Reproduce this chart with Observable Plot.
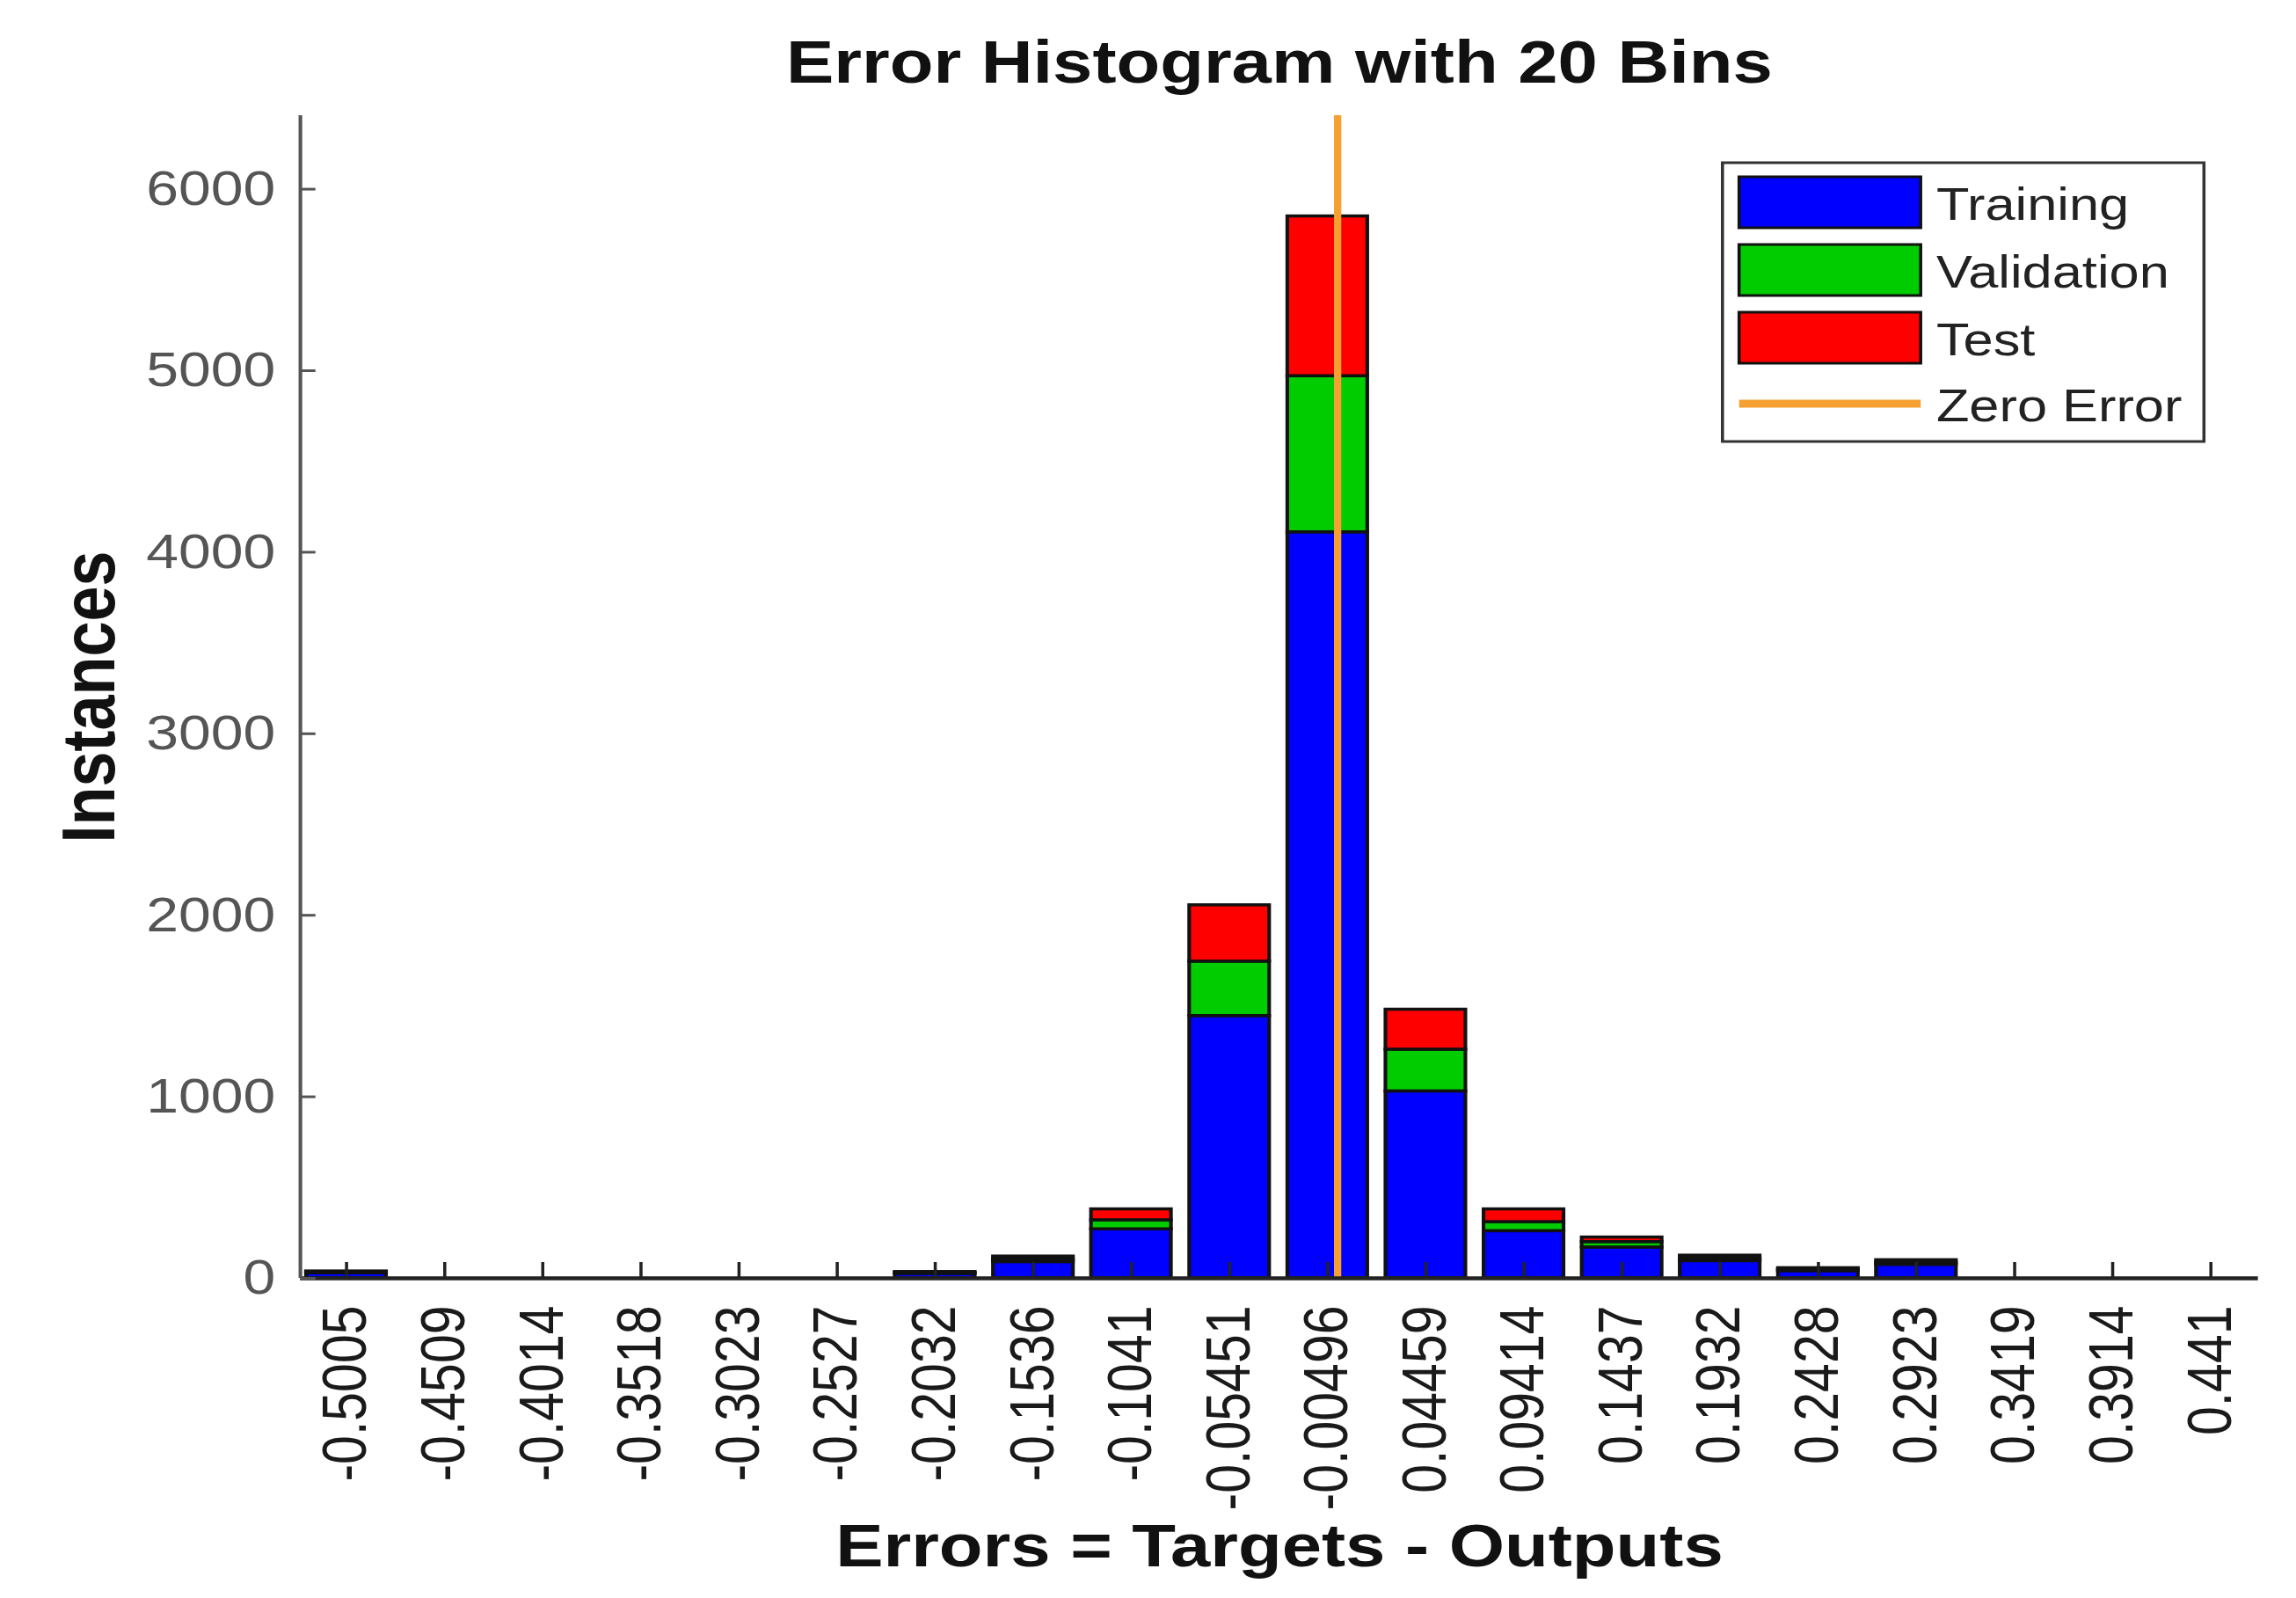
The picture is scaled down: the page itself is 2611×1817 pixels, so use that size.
<!DOCTYPE html>
<html><head><meta charset="utf-8">
<script src="https://cdn.jsdelivr.net/npm/d3@7"></script>
<script src="https://cdn.jsdelivr.net/npm/@observablehq/plot@0.6"></script>
<style>
html,body{margin:0;padding:0;background:#fff;overflow:hidden;}
#wrap{width:2213px;height:1817px;transform:scaleX(1.18);transform-origin:0 0;}
</style></head><body><div id="wrap"></div>
<script>
// ---- data ----
const binCenters = [-0.5005,-0.4509,-0.4014,-0.3518,-0.3023,-0.2527,-0.2032,-0.1536,-0.1041,-0.05451,-0.00496,0.04459,0.09414,0.1437,0.1932,0.2428,0.2923,0.3419,0.3914,0.441];
const tickLabels = ["-0.5005","-0.4509","-0.4014","-0.3518","-0.3023","-0.2527","-0.2032","-0.1536","-0.1041","-0.05451","-0.00496","0.04459","0.09414","0.1437","0.1932","0.2428","0.2923","0.3419","0.3914","0.441"];
const seriesNames = ["Training","Validation","Test"];
const seriesColors = ["#0000ff","#00cc00","#ff0000"];
const training   = [28,0,0,0,0,0,25,90,270,1445,4110,1030,260,170,95,40,75,0,0,0];
const validation = [5,0,0,0,0,0,5,15,50,300,860,230,50,30,15,8,12,0,0,0];
const test       = [5,0,0,0,0,0,5,15,60,310,880,220,70,25,15,8,13,0,0,0];
const yTicks = [0,1000,2000,3000,4000,5000,6000];
const yTickLabels = ["0","1000","2000","3000","4000","5000","6000"];
const titleText = "Error Histogram with 20 Bins";
const xLabel = "Errors = Targets - Outputs";
const yLabel = "Instances";
const zeroLabel = "Zero Error";
const zeroColor = "#f5a030";
const xDomain = [-0.5238, 0.4650];
const yDomain = [0, 6405];

// ---- layout ----
const W = 2213, H = 1817, mL = 289, mR = 37, mT = 131, mB = 364;
const plotW = W - mL - mR, plotH = H - mT - mB;
const halfBar = 0.0202;

const seriesValues = [training, validation, test];
const rows = [];
binCenters.forEach((c, i) => {
  let acc = 0;
  seriesNames.forEach((s, j) => {
    const v = seriesValues[j][i];
    if (v > 0) rows.push({x1: c - halfBar, x2: c + halfBar, y1: acc, y2: acc + v, series: s});
    acc += v;
  });
});
const labelMap = new Map(binCenters.map((c, i) => [c, tickLabels[i]]));
const yLabelMap = new Map(yTicks.map((t, i) => [t, yTickLabels[i]]));

const chart = Plot.plot({
  width: W, height: H,
  marginLeft: mL, marginRight: mR, marginTop: mT, marginBottom: mB,
  style: {fontFamily: "'Liberation Sans', Arial, sans-serif", background: "white", overflow: "visible"},
  x: {type: "linear", domain: xDomain},
  y: {type: "linear", domain: yDomain},
  color: {domain: seriesNames, range: seriesColors},
  marks: [
    Plot.rect(rows, {x1: "x1", x2: "x2", y1: "y1", y2: "y2", fill: "series", stroke: "#111", strokeWidth: 3.5}),
    Plot.ruleX([0], {stroke: zeroColor, strokeWidth: 7}),
    Plot.ruleY([0], {stroke: "#222", strokeWidth: 4.5}),
    Plot.ruleX([xDomain[0]], {stroke: "#555", strokeWidth: 3.5}),
    Plot.tickY(yTicks, {y: d => d, stroke: "#555", strokeWidth: 3, insetRight: plotW - 15}),
    Plot.tickX(binCenters, {x: d => d, stroke: "#222", strokeWidth: 3, insetTop: plotH - 18}),
    Plot.axisY(yTicks, {tickSize: 0, tickPadding: 24, fontSize: 56, color: "#555", label: null, tickFormat: d => yLabelMap.get(d)}),
    Plot.axisX(binCenters, {tickSize: 0, tickPadding: 31, tickRotate: -90, fontSize: 59, color: "#1a1a1a", label: null, tickFormat: d => labelMap.get(d)}),
    Plot.text([titleText], {frameAnchor: "top", lineAnchor: "bottom", textAnchor: "middle", dy: -38, fontSize: 69, fontWeight: "bold", fill: "#111"}),
    Plot.text([xLabel], {frameAnchor: "bottom", lineAnchor: "bottom", textAnchor: "middle", dy: 327, fontSize: 69, fontWeight: "bold", fill: "#111"}),
    Plot.text([yLabel], {frameAnchor: "left", rotate: -90, lineAnchor: "bottom", textAnchor: "middle", dx: -179, fontSize: 72, fontWeight: "bold", fill: "#111"})
  ]
});
document.getElementById("wrap").appendChild(chart);

// ---- legend ----
const svg = d3.select(chart);
const lg = svg.append("g").attr("font-family", "'Liberation Sans', Arial, sans-serif")
  .attr("font-size", 52).attr("fill", "#222").attr("text-anchor", "start");
const bx = 1660, by = 185, bw = 464, bh = 317;
lg.append("rect").attr("x", bx).attr("y", by).attr("width", bw).attr("height", bh)
  .attr("fill", "white").attr("stroke", "#333").attr("stroke-width", 3);
const swX = bx + 16, swW = 175, swH = 58, row0 = 201, step = 77, txX = bx + 206;
seriesNames.forEach((s, j) => {
  const y = row0 + j * step;
  lg.append("rect").attr("x", swX).attr("y", y).attr("width", swW).attr("height", swH)
    .attr("fill", seriesColors[j]).attr("stroke", "#111").attr("stroke-width", 3);
  lg.append("text").attr("x", txX).attr("y", y + swH / 2).attr("dy", "0.38em").attr("text-anchor", "start").text(s);
});
const ly = row0 + 3 * step + swH / 2 - 2;
lg.append("line").attr("x1", swX).attr("x2", swX + swW).attr("y1", ly).attr("y2", ly)
  .attr("stroke", zeroColor).attr("stroke-width", 9);
lg.append("text").attr("x", txX).attr("y", ly).attr("dy", "0.38em").attr("text-anchor", "start").text(zeroLabel);
</script>
</body></html>
